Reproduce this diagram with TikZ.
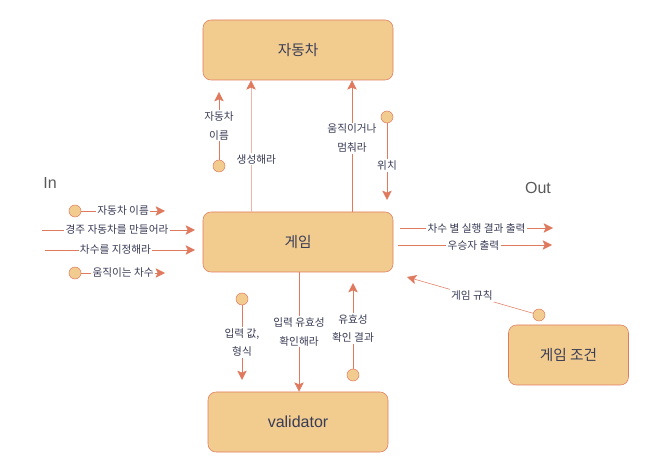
\documentclass[tikz,border=0pt]{standalone}
\usepackage{fontspec}
\setmainfont{Noto Sans CJK KR}
\newfontfamily\latinfont{Liberation Sans}
\usetikzlibrary{positioning,arrows.meta}
\definecolor{boxfill}{HTML}{F2CC8F}
\definecolor{boxline}{HTML}{E07A5F}
\definecolor{txtcol}{HTML}{393C56}
\tikzset{
  block/.style={draw=boxline, fill=boxfill, rounded corners=6pt, text=txtcol,
    minimum width=142.5pt, minimum height=45pt, font=\fontsize{11}{13}\selectfont},
  dot/.style={circle, draw=boxline, fill=boxfill, minimum size=9pt, inner sep=0pt},
  flow/.style={draw=boxline, -{Stealth[length=7pt,width=7pt,inset=1.5pt,color=boxline]}},
  lbl/.style={fill=white, inner sep=1pt, text=txtcol, align=center,
    font=\fontsize{8}{14}\selectfont},
  side/.style={text=black!65, font=\latinfont\fontsize{12}{14}\selectfont}
}
\begin{document}
\begin{tikzpicture}[x=0.75pt, y=-0.75pt]
	\useasboundingbox (0,0) rectangle (649,473);

	%% the boxes
	\node[block] (car) at (298,50) {자동차};
	\node[block] (game) at (298,242) {게임};
	\node[block, minimum width=135pt, font=\latinfont\fontsize{12}{14}\selectfont] (val) at (298,422) {validator};
	\node[block, minimum width=90pt] (cond) at (568.5,355) {게임 조건};

	\node[side] (in) at (50,183) {In};
	\node[side] (out) at (538,188) {Out};

	% game -> car
	\draw[flow, draw=boxline!55] ([xshift=-35.25pt]game.north) -- node[lbl, pos=0.4, xshift=4pt] {생성해라} ([xshift=-35.25pt]car.south);
	\draw[flow] ([xshift=40.5pt]game.north) -- node[lbl, pos=0.56] {움직이거나\\멈춰라} ([xshift=40.5pt]car.south);

	\node[dot] (carname) at (219,166) {};
	\coordinate (carnameE) at (219,92);
	\draw[flow] (carname) -- node[lbl] {자동차\\이름} (carnameE);

	\node[dot] (pos) at (387,117) {};
	\coordinate (posE) at (387,200);
	\draw[flow] (pos) -- node[lbl, pos=0.55] {위치} (posE);

	% game <-> validator
	\node[dot] (valin) at (242,299) {};
	\coordinate (valinE) at (242,380);
	\draw[flow] (valin) -- node[lbl] {입력 값,\\형식} (valinE);

	\draw[flow] ([xshift=0.75pt]game.south) -- node[lbl] {입력 유효성\\확인해라} ([xshift=0.75pt]val.north);

	\node[dot] (valres) at (353,375) {};
	\coordinate (valresE) at (353,283);
	\draw[flow] (valres) -- node[lbl, pos=0.47] {유효성\\확인 결과} (valresE);

	% inputs
	\node[dot] (in1) at (75,211) {};
	\coordinate (in1E) at (165,211);
	\draw[flow] (in1) -- node[lbl] {자동차 이름} (in1E);

	\coordinate (in2S) at (42,230);
	\coordinate (in2E) at (195,230);
	\draw[flow] (in2S) -- node[lbl, pos=0.49] {경주 자동차를 만들어라} (in2E);

	\coordinate (in3S) at (45,250);
	\coordinate (in3E) at (195,250);
	\draw[flow] (in3S) -- node[lbl, pos=0.47] {차수를 지정해라} (in3E);

	\node[dot] (in4) at (75,273) {};
	\coordinate (in4E) at (165,273);
	\draw[flow] (in4) -- node[lbl] {움직이는 차수} (in4E);

	% outputs
	\coordinate (out1S) at (400,228);
	\coordinate (out1E) at (553,228);
	\draw[flow] (out1S) -- node[lbl] {차수 별 실행 결과 출력} (out1E);

	\coordinate (out2S) at (398,245);
	\coordinate (out2E) at (552,245);
	\draw[flow] (out2S) -- node[lbl, pos=0.49] {우승자 출력} (out2E);

	% game rules
	\node[dot] (rule) at (539,315) {};
	\coordinate (ruleE) at (407,277);
	\draw[flow] (rule) -- node[lbl, pos=0.485] {게임 규칙} (ruleE);
\end{tikzpicture}
\end{document}
